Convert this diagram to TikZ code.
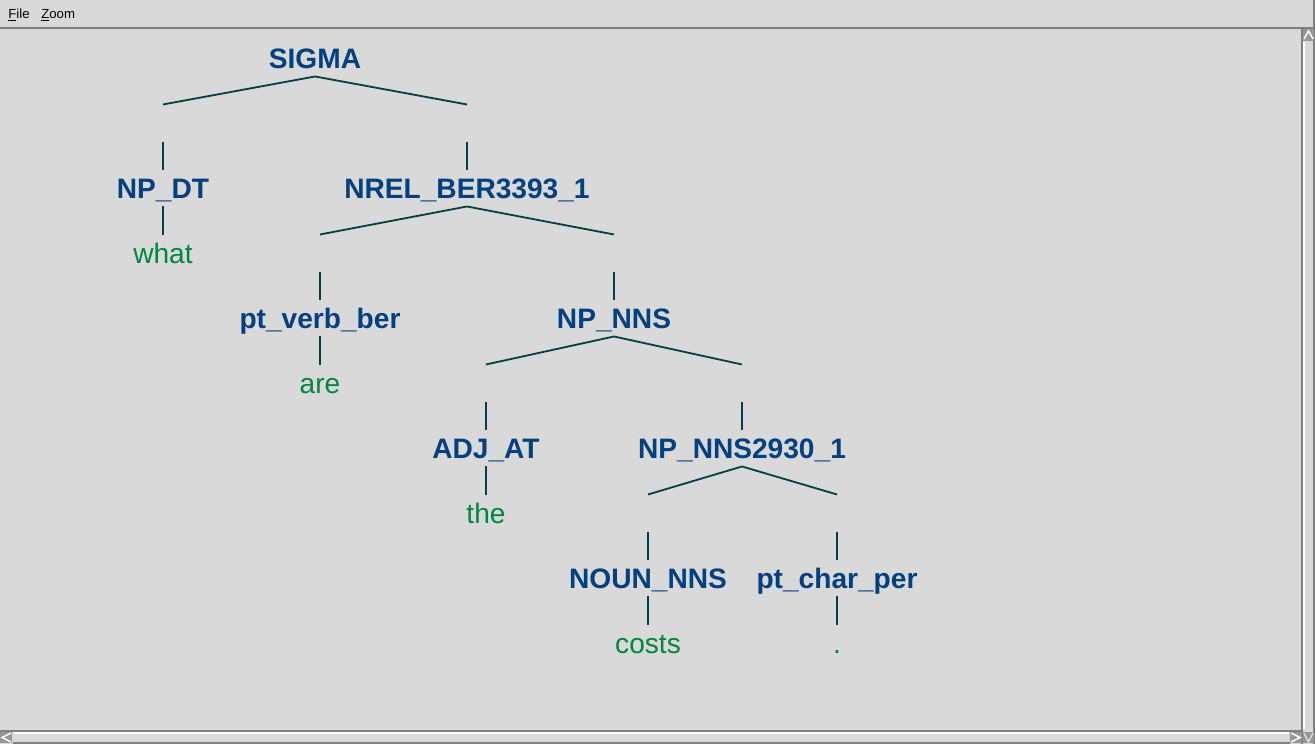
\documentclass[tikz,border=0pt]{standalone}
\usepackage{fontspec}
\setmainfont{Liberation Sans}
\usetikzlibrary{calc}
\definecolor{winbg}{RGB}{217,217,217}
\definecolor{labelblue}{RGB}{0,64,128}
\definecolor{leafgreen}{RGB}{0,132,62}
\definecolor{edgeteal}{RGB}{0,64,64}
\definecolor{framegray}{RGB}{128,128,128}
\definecolor{btngray}{RGB}{150,150,150}
\tikzset{
	cat/.style={font=\fontsize{16}{19}\selectfont\bfseries, text=labelblue, inner xsep=0pt, inner ysep=0.16cm, text height=0.405cm, text depth=0pt},
	leaf/.style={cat, font=\fontsize{16}{19}\selectfont, text=leafgreen},
	edge/.style={draw=edgeteal, line width=0.036cm},
	frame/.style={draw=framegray, line width=0.03cm},
	menu/.style={font=\fontsize{7.5}{9}\selectfont, inner sep=0pt, anchor=base west},
}
\begin{document}
\begin{tikzpicture}[x=0.02cm, y=-0.02cm]
	% window
	\fill[winbg](0, 0)rectangle(1315, 744);
	\useasboundingbox(0, 0)rectangle(1315, 744);
	\node[menu](file)at(8, 18){\underline{F}ile};
	\node[menu](zoom)at(41, 18){\underline{Z}oom};
	\draw[frame](0, 28)--(1314, 28);
	\draw[frame](1314, 0)--(1314, 744);
	% scrollbars
	\draw[frame](1302, 28)--(1302, 744);
	\draw[frame](0, 731)--(1302, 731);
	\draw[white, line width=.03cm](1304, 42)--(1304, 729);
	\draw[white, line width=.03cm](14, 733)--(1289, 733);
	\draw[frame](13, 743)--(1290, 743);
	\fill[btngray](1303, 29)rectangle(1314, 41);
	\draw[white, line width=.03cm](1304, 39)--(1308.5, 31)--(1313, 39);
	\fill[btngray](1303, 731.5)rectangle(1314, 743);
	\draw[winbg, line width=.03cm](1304, 733)--(1308.5, 742)--(1313, 733);
	\fill[btngray](0, 732)rectangle(12, 743);
	\draw[white, line width=.03cm](11, 733)--(2, 737.5)--(11, 742);
	\fill[btngray](1290, 732)rectangle(1301.5, 743);
	\draw[white, line width=.03cm](1291, 733)--(1300, 737.5)--(1291, 742);
	% categories
	\node[cat](sigma)at(315, 58){SIGMA};
	\node[cat](npdt)at(163, 188){NP\_DT};
	\node[cat](nrel)at(467, 188){NREL\_BER3393\_1};
	\node[cat](verb)at(320, 318){pt\_verb\_ber};
	\node[cat](npnns)at(614, 318){NP\_NNS};
	\node[cat](adj)at(486, 448){ADJ\_AT};
	\node[cat](nns2930)at(742, 448){NP\_NNS2930\_1};
	\node[cat](noun)at(648, 578){NOUN\_NNS};
	\node[cat](char)at(837, 578){pt\_char\_per};
	% words
	\node[leaf](what)at(163, 253){what};
	\node[leaf](are)at(320, 383){are};
	\node[leaf](the)at(486, 513){the};
	\node[leaf](costs)at(648, 643){costs};
	\node[leaf](per)at(837, 643){.};
	% branches
	\foreach \p/\l/\r in {sigma/npdt/nrel, nrel/verb/npnns, npnns/adj/nns2930, nns2930/noun/char}{
		\coordinate(\p-l)at($(\p.south -| \l)+(0, 28)$);
		\coordinate(\p-r)at($(\p.south -| \r)+(0, 28)$);
		\draw[edge](\p-l)--(\p.south)--(\p-r);
	}
	\foreach \c in {npdt, nrel, verb, npnns, adj, nns2930, noun, char}{
		\coordinate(\c-t)at($(\c.north)+(0, -28)$);
		\draw[edge](\c-t)--(\c.north);
	}
	\foreach \c/\w in {npdt/what, verb/are, adj/the, noun/costs, char/per}
		\draw[edge](\c.south)--(\w.north);
\end{tikzpicture}
\end{document}
